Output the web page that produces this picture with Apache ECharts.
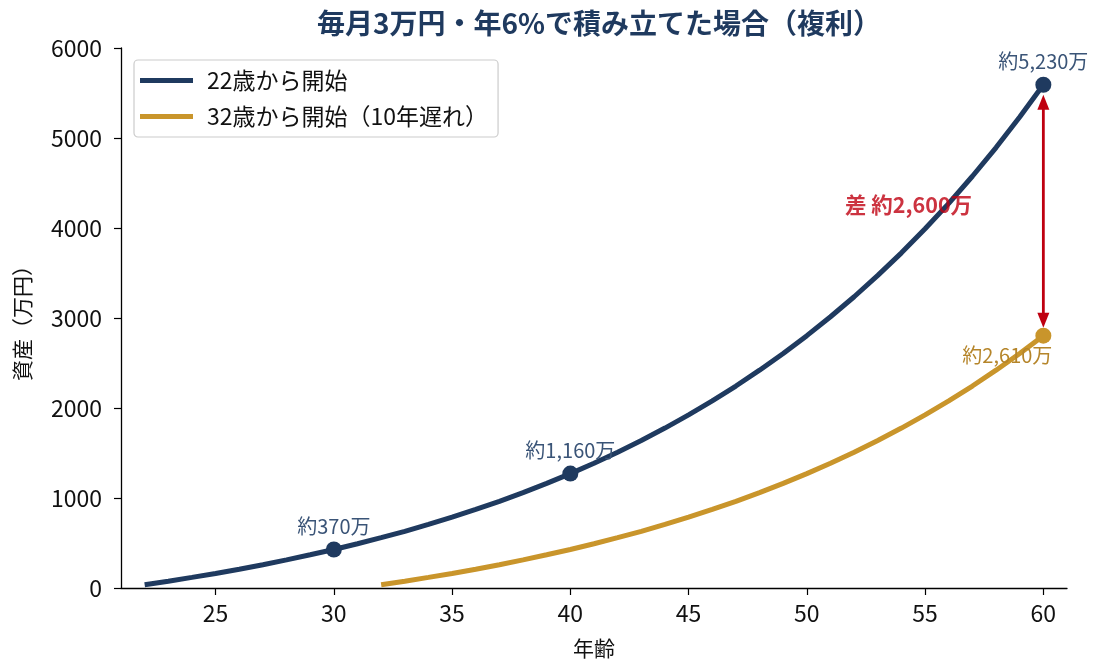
<!DOCTYPE html>
<html>
<head>
<meta charset="utf-8">
<script src="https://cdn.jsdelivr.net/npm/echarts@6/dist/echarts.min.js"></script>
<style>
  html, body { margin: 0; padding: 0; background: #fff; }
  #chart { width: 1093px; height: 664px; }
</style>
</head>
<body>
<div id="chart"></div>
<script>
// Ages (x) for each plotted year-end
const agesEarly = [22,23,24,25,26,27,28,29,30,31,32,33,34,35,36,37,38,39,40,41,42,43,44,45,46,47,48,49,50,51,52,53,54,55,56,57,58,59,60];
const agesLate = [32,33,34,35,36,37,38,39,40,41,42,43,44,45,46,47,48,49,50,51,52,53,54,55,56,57,58,59,60];

// Accumulated assets (万円)
const assetsEarly = [37,76,118,162,209,259,312,369,428,492,559,630,706,787,873,963,1060,1162,1271,1386,1509,1639,1777,1923,2079,2244,2420,2606,2804,3014,3236,3473,3724,3991,4274,4575,4894,5233,5592];
const assetsLate = [37,76,118,162,209,259,312,369,428,492,559,630,706,787,873,963,1060,1162,1271,1386,1509,1639,1777,1923,2079,2244,2420,2606,2804];

// Highlighted points and their annotations
const earlyMarkAges = [30, 40, 60];
const earlyMarkValues = [428, 1271, 5592];
const earlyMarkLabels = ['約370万', '約1,160万', '約5,230万'];
const lateMarkAges = [60];
const lateMarkValues = [2804];
const lateMarkLabels = ['約2,610万'];

// Gap annotation
const gapText = '差 約2,600万';
const gapTextPos = [54.3, 4260];

const seriesNames = ['22歳から開始', '32歳から開始（10年遅れ）'];
const xTicks = [25, 30, 35, 40, 45, 50, 55, 60];

const NAVY = '#1f3a5f';
const GOLD = '#c9952b';
const RED = '#bf0010';
const FONT = '"Noto Sans CJK JP", "Noto Sans", sans-serif';

const chart = echarts.init(document.getElementById('chart'), null, { renderer: 'canvas' });

const zip = (xs, ys) => xs.map((x, i) => [x, ys[i]]);

chart.setOption({
  animation: false,
  backgroundColor: '#fff',
  textStyle: { fontFamily: FONT },
  title: {
    text: '毎月3万円・年6%で積み立てた場合（複利）',
    left: 594, top: 4, textAlign: 'center',
    textStyle: { fontFamily: FONT, fontSize: 28, fontWeight: 'bold', color: NAVY }
  },
  legend: {
    data: seriesNames,
    orient: 'vertical',
    left: 134, top: 60,
    padding: [9, 10, 9, 6],
    itemGap: 13,
    itemWidth: 53, itemHeight: 5,
    icon: 'rect',
    borderColor: '#cccccc', borderWidth: 1.2, borderRadius: 4,
    backgroundColor: '#fff',
    textStyle: { fontFamily: FONT, fontSize: 23, color: '#111', padding: [0, 0, 0, 9] }
  },
  grid: { left: 121, right: 26, top: 48, bottom: 74, containLabel: false },
  xAxis: {
    type: 'value', min: 21, max: 61,
    name: '年齢', nameLocation: 'middle', nameGap: 50,
    nameTextStyle: { fontFamily: FONT, fontSize: 21, color: '#111' },
    axisLine: { show: true, lineStyle: { color: '#000', width: 1.3 } },
    axisTick: { show: true, length: 7, inside: false, customValues: xTicks, lineStyle: { color: '#000', width: 1.2 } },
    axisLabel: { customValues: xTicks, margin: 14, fontFamily: FONT, fontSize: 23, color: '#111' },
    splitLine: { show: false }
  },
  yAxis: {
    type: 'value', min: 0, max: 6000, interval: 1000,
    name: '資産（万円）', nameLocation: 'middle', nameGap: 88, nameRotate: 90,
    nameTextStyle: { fontFamily: FONT, fontSize: 21, color: '#111' },
    axisLine: { show: true, lineStyle: { color: '#000', width: 1.3 } },
    axisTick: { show: true, length: 7, inside: false, lineStyle: { color: '#000', width: 1.2 } },
    axisLabel: { margin: 19, fontFamily: FONT, fontSize: 23, color: '#111', formatter: v => String(v) },
    splitLine: { show: false }
  },
  series: [
    {
      name: seriesNames[0], type: 'line',
      data: zip(agesEarly, assetsEarly),
      showSymbol: false, smooth: false,
      color: NAVY,
      lineStyle: { color: NAVY, width: 5 },
      z: 3
    },
    {
      name: seriesNames[1], type: 'line',
      data: zip(agesLate, assetsLate),
      showSymbol: false, smooth: false,
      color: GOLD,
      lineStyle: { color: GOLD, width: 5 },
      z: 2
    },
    {
      type: 'scatter',
      data: earlyMarkAges.map((a, i) => ({ value: [a, earlyMarkValues[i]], label: { formatter: earlyMarkLabels[i] } })),
      symbolSize: 16,
      itemStyle: { color: NAVY, opacity: 1 },
      label: { show: true, position: 'top', distance: 5, fontFamily: FONT, fontSize: 20, color: '#3a5477' },
      z: 5
    },
    {
      type: 'scatter',
      data: lateMarkAges.map((a, i) => ({ value: [a, lateMarkValues[i]], label: { formatter: lateMarkLabels[i] } })),
      symbolSize: 16,
      itemStyle: { color: GOLD, opacity: 1 },
      label: { show: true, position: 'bottom', distance: 2, offset: [-36, 0], fontFamily: FONT, fontSize: 20, color: '#b5852a' },
      z: 5
    },
    {
      // double-headed arrow between the two end values at age 60
      type: 'custom',
      data: [[60, earlyMarkValues[2], lateMarkValues[0]]],
      renderItem: function (params, api) {
        const top = api.coord([api.value(0), api.value(1)]);
        const bot = api.coord([api.value(0), api.value(2)]);
        const x = top[0];
        const y1 = top[1] + 10;
        const y2 = bot[1] - 8;
        const hl = 15, hw = 6;
        return {
          type: 'group',
          children: [
            { type: 'line', shape: { x1: x, y1: y1 + hl - 2, x2: x, y2: y2 - hl + 2 }, style: { stroke: RED, lineWidth: 2.8 } },
            { type: 'polygon', shape: { points: [[x, y1], [x - hw, y1 + hl], [x + hw, y1 + hl]] }, style: { fill: RED } },
            { type: 'polygon', shape: { points: [[x, y2], [x - hw, y2 - hl], [x + hw, y2 - hl]] }, style: { fill: RED } }
          ]
        };
      },
      z: 4,
      silent: true
    },
    {
      type: 'scatter',
      data: [{ value: gapTextPos }],
      symbolSize: 0,
      label: { show: true, position: 'inside', formatter: gapText, fontFamily: FONT, fontSize: 21.5, fontWeight: 'bold', color: RED },
      z: 6,
      silent: true
    }
  ]
});
</script>
</body>
</html>
